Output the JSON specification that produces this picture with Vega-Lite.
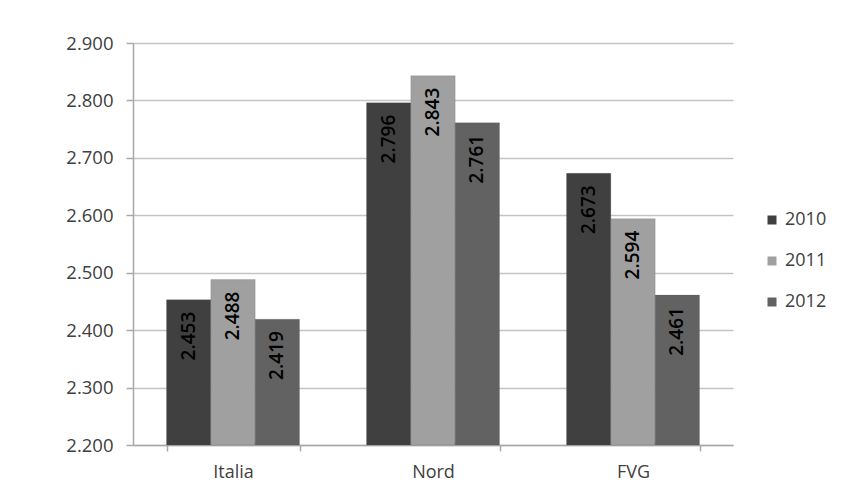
{
  "$schema": "https://vega.github.io/schema/vega-lite/v6.json",
  "autosize": {"type": "none"},
  "padding": {"left": 133, "top": 43, "right": 134, "bottom": 43},
  "width": 600,
  "height": 402,
  "background": "white",
  "data": {"values": [
    {"area": "Italia", "year": "2010", "value": 2.453},
    {"area": "Italia", "year": "2011", "value": 2.488},
    {"area": "Italia", "year": "2012", "value": 2.419},
    {"area": "Nord", "year": "2010", "value": 2.796},
    {"area": "Nord", "year": "2011", "value": 2.843},
    {"area": "Nord", "year": "2012", "value": 2.761},
    {"area": "FVG", "year": "2010", "value": 2.673},
    {"area": "FVG", "year": "2011", "value": 2.594},
    {"area": "FVG", "year": "2012", "value": 2.461}
  ]},
  "encoding": {
    "x": {"field": "area", "type": "nominal", "sort": ["Italia", "Nord", "FVG"],
      "scale": {"paddingInner": 0.335, "paddingOuter": 0.1675},
      "axis": {"title": null, "labelAngle": 0, "labelFont": "Open Sans", "labelFontSize": 18, "labelColor": "#404040",
        "labelPadding": 12, "tickSize": 6, "tickColor": "#a8a8a8", "tickWidth": 1.5, "tickBand": "extent",
        "domainColor": "#a8a8a8", "domainWidth": 1.5}},
    "xOffset": {"field": "year", "type": "nominal", "scale": {"paddingInner": 0, "paddingOuter": 0}},
    "y": {"field": "value", "type": "quantitative",
      "scale": {"domain": [2.2, 2.9], "zero": false, "nice": false},
      "axis": {"title": null, "format": ".3f", "values": [2.2, 2.3, 2.4, 2.5, 2.6, 2.7, 2.8, 2.9],
        "labelFont": "Open Sans", "labelFontSize": 18.5, "labelColor": "#404040", "labelPadding": 13,
        "tickSize": 7, "tickColor": "#a8a8a8", "tickWidth": 1.5,
        "domainColor": "#a8a8a8", "domainWidth": 1.5,
        "grid": true, "gridColor": "#c4c4c4", "gridWidth": 1.5}}
  },
  "layer": [
    {
      "mark": {"type": "bar", "stroke": "#555555", "strokeWidth": 0.5, "strokeOpacity": 0.4},
      "encoding": {
        "y2": {"datum": 2.2},
        "color": {"field": "year", "type": "nominal",
          "scale": {"domain": ["2010", "2011", "2012"], "range": ["#404040", "#a0a0a0", "#626262"]},
          "legend": {"title": null, "orient": "none", "legendX": 630, "legendY": 168,
            "symbolType": "square", "symbolSize": 81, "symbolStrokeWidth": 0, "labelFont": "Open Sans", "labelFontSize": 18,
            "labelColor": "#404040", "labelOffset": 4, "rowPadding": 23}}
      }
    },
    {
      "mark": {"type": "text", "angle": 270, "align": "right", "baseline": "middle", "dx": -12,
        "font": "Open Sans", "fontSize": 19, "fontWeight": 600, "color": "#000000"},
      "encoding": {"text": {"field": "value", "type": "quantitative", "format": ".3f"}}
    }
  ],
  "config": {"view": {"stroke": null}}
}
